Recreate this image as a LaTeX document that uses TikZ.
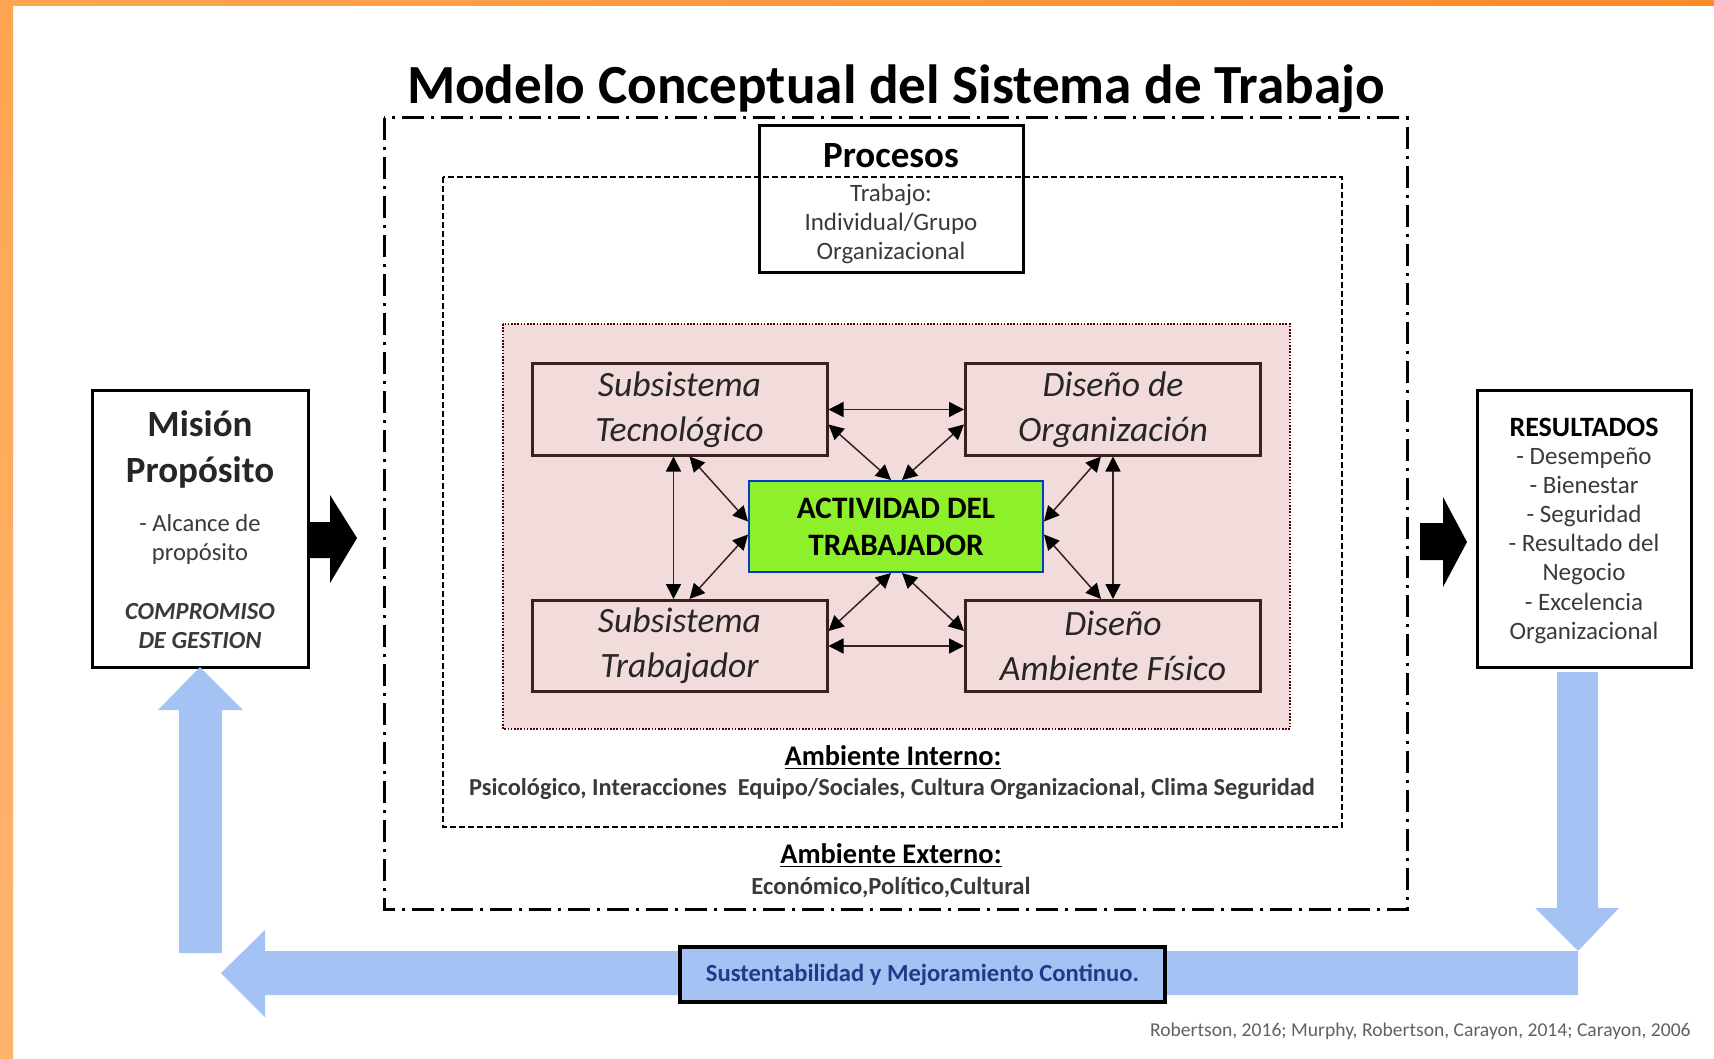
\documentclass[tikz,border=0pt]{standalone}
\usepackage{fontspec}
\setmainfont{Carlito}
\usetikzlibrary{arrows.meta,calc}
\definecolor{rosa}{HTML}{F2DCDB}
\definecolor{verde}{HTML}{8EF02B}
\definecolor{azulclaro}{HTML}{A4C2F4}
\definecolor{azultexto}{HTML}{1F3C88}
\definecolor{gristexto}{HTML}{3A3A3A}
\definecolor{linea}{HTML}{3B2020}
\definecolor{naranja1}{HTML}{FFA552}
\definecolor{naranja2}{HTML}{FF7A05}
\definecolor{naranja3}{HTML}{FF8A28}
\definecolor{naranja4}{HTML}{FFB46E}
\begin{document}
\begin{tikzpicture}[x=0.5pt,y=-0.5pt,
	caja/.style={draw=black,line width=1.5pt,inner sep=0pt},
	subcaja/.style={draw=linea,line width=1.5pt,fill=rosa,minimum width=147.5pt,minimum height=45.5pt,align=center,font=\fontsize{17.8}{22.5}\selectfont\itshape,text=black!85},
	flecha/.style={{Triangle[length=7.5pt,width=7.5pt,color=black]}-{Triangle[length=7.5pt,width=7.5pt,color=black]},draw=linea,line width=0.75pt},
	texto/.style={align=center,text=gristexto,inner sep=0pt}]
	\useasboundingbox (0,0) rectangle (1714,1059);
	%Marco
	\shade[left color=naranja1,middle color=naranja2,right color=naranja3] (0,0) rectangle (1714,6);
	\shade[top color=naranja1,bottom color=naranja4] (0,0) rectangle (13,1059);
	%Titulo
	\node[font=\fontsize{27.6}{32}\selectfont\bfseries] (titulo) at (896,89) {Modelo Conceptual del Sistema de Trabajo};
	%Ambientes
	\draw[line width=1.5pt,dash pattern=on 11pt off 3.5pt on 1.5pt off 3.5pt] (384,118) rectangle (1407,909);
	\draw[line width=1.2pt,dash pattern=on 3pt off 1.5pt] (443,177) rectangle (1342,827);
	\draw[fill=rosa,draw=black!70!red,line width=0.8pt,dash pattern=on 0.8pt off 0.8pt] (503,324) rectangle (1290,729);
	% Procesos
	\node[caja,minimum width=132pt,minimum height=73.5pt] (procesos) at (891,199.5) {};
	\node[font=\fontsize{18.5}{22}\selectfont\bfseries] (procesostit) at (891,156) {Procesos};
	\node[texto,font=\fontsize{12.5}{14.5}\selectfont] (procesostxt) at (891,224) {Trabajo:\\Individual/Grupo\\Organizacional};
	%Subsistemas
	\node[subcaja] (tecno) at (679.5,409.5) {Subsistema\\Tecnológico};
	\node[subcaja] (org) at (1113,409.5) {Diseño de\\Organización};
	\node[subcaja] (trab) at (679.5,646) {Subsistema\\Trabajador};
	\node[subcaja] (fisico) at (1113,646) {Diseño\\Ambiente Físico};
	\node[draw=blue!70!cyan!80!black,line width=1pt,fill=verde,minimum width=147pt,minimum height=45.5pt,align=center,font=\fontsize{15.6}{18.5}\selectfont\bfseries] (act) at (896,526.5) {ACTIVIDAD DEL\\TRABAJADOR};
	%Flechas
	\draw[flecha] (tecno) -- (org);
	\draw[flecha] (trab) -- (fisico);
	\draw[flecha] ($(tecno.south)+(-6,0)$) -- ($(trab.north)+(-6,0)$);
	\draw[flecha] (org.south) -- (fisico.north);
	\draw[flecha] ($(tecno.east)+(0,15)$) -- ($(act.north)+(-5,0)$);
	\draw[flecha] ($(org.west)+(0,15)$) -- ($(act.north)+(6,0)$);
	\draw[flecha] ($(tecno.south)+(10,0)$) -- ($(act.west)+(0,-5)$);
	\draw[flecha] ($(trab.north)+(10,0)$) -- ($(act.west)+(0,8)$);
	\draw[flecha] ($(org.south)+(-12,0)$) -- ($(act.east)+(0,-5)$);
	\draw[flecha] ($(fisico.north)+(-12,0)$) -- ($(act.east)+(0,8)$);
	\draw[flecha] ($(act.south)+(-5,0)$) -- ($(trab.east)+(0,-15)$);
	\draw[flecha] ($(act.south)+(6,0)$) -- ($(fisico.west)+(0,-15)$);
	%Textos ambiente
	\node[font=\fontsize{14.2}{17}\selectfont\bfseries] (interno) at (893,758) {\underline{Ambiente Interno:}};
	\node[font=\fontsize{12.2}{14}\selectfont\bfseries,text=gristexto] (internotxt) at (892,789) {Psicológico, Interacciones\ \ Equipo/Sociales, Cultura Organizacional, Clima Seguridad};
	\node[font=\fontsize{14.2}{17}\selectfont\bfseries] (externo) at (891,856) {\underline{Ambiente Externo:}};
	\node[font=\fontsize{12.3}{14}\selectfont\bfseries,text=gristexto] (externotxt) at (891,888) {Económico,Político,Cultural};
	% Mision
	\node[caja,fill=white,minimum width=108pt,minimum height=138.5pt] (mision) at (200,528.5) {};
	\node[texto,font=\fontsize{18.5}{23}\selectfont\bfseries,text=black!85] (misiontit) at (200,449) {Misión\\Propósito};
	\node[texto,font=\fontsize{12.3}{14.5}\selectfont] (misiontxt) at (200,539.5) {- Alcance de\\propósito};
	\node[texto,font=\fontsize{12.3}{14.5}\selectfont\bfseries\itshape] (compromiso) at (200,626.5) {COMPROMISO\\DE GESTION};
	% Resultados
	\node[caja,fill=white,minimum width=107pt,minimum height=138.5pt] (resultados) at (1584,528.5) {};
	\node[font=\fontsize{14}{17}\selectfont\bfseries] (resultadostit) at (1584,427) {RESULTADOS};
	\node[texto,font=\fontsize{12.5}{14.6}\selectfont] (resultadostxt) at (1584,545.5) {- Desempeño\\- Bienestar\\- Seguridad\\- Resultado del\\Negocio\\- Excelencia\\Organizacional};
	%Flechas negras
	\fill (308,522) -- (330,522) -- (330,495) -- (357,538) -- (330,583) -- (330,558) -- (308,558) -- cycle;
	\fill (1420,523) -- (1443,523) -- (1443,497) -- (1467,542) -- (1443,587) -- (1443,560) -- (1420,560) -- cycle;
	%Flechas azules
	\fill[azulclaro] (1557,672) -- (1598,672) -- (1598,908) -- (1619,908) -- (1578,951) -- (1535,908) -- (1557,908) -- cycle;
	\fill[azulclaro] (1578,951) -- (1578,995) -- (265,995) -- (265,1017) -- (221,973) -- (265,930) -- (265,951) -- cycle;
	\fill[azulclaro] (179,953) -- (179,710) -- (158,710) -- (200,667) -- (243,710) -- (222,710) -- (222,953) -- cycle;
	\node[draw=black,line width=2pt,fill=azulclaro,minimum width=242.5pt,minimum height=27.5pt,font=\fontsize{12.3}{14}\selectfont\bfseries,text=azultexto] (sust) at (922.5,974.5) {Sustentabilidad y Mejoramiento Continuo.};
	%Cita
	\node[anchor=east,inner sep=0pt,font=\fontsize{9.8}{11}\selectfont,text=gristexto!80] (cita) at (1691,1031) {Robertson, 2016; Murphy, Robertson, Carayon, 2014; Carayon, 2006};
\end{tikzpicture}
\end{document}
